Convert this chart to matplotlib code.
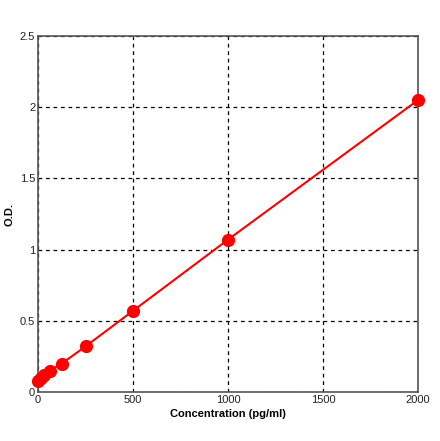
import matplotlib
matplotlib.use("Agg")
import matplotlib.pyplot as plt

# standard curve
conc = [0, 15.6, 31.25, 62.5, 125, 250, 500, 1000, 2000]
od = [0.08, 0.10, 0.12, 0.15, 0.20, 0.32, 0.57, 1.07, 2.05]

x_ticks = [0, 500, 1000, 1500, 2000]
x_labels = ["0", "500", "1000", "1500", "2000"]
y_ticks = [0, 0.5, 1, 1.5, 2, 2.5]
y_labels = ["0", "0.5", "1", "1.5", "2", "2.5"]

plt.rcParams["font.family"] = ["Liberation Sans", "DejaVu Sans"]

fig = plt.figure(figsize=(4.4, 4.41), dpi=100)
ax = fig.add_axes([38 / 440, 1 - 392 / 441, 380 / 440, 356 / 441])

ax.plot(conc, od, color="#ff0000", linewidth=1.5, marker="o",
        markersize=8.5, markeredgecolor="#ff0000", zorder=3, clip_on=False)

ax.set_xlim(0, 2000)
ax.set_ylim(0, 2.5)
ax.set_xticks(x_ticks)
ax.set_xticklabels(x_labels)
ax.set_yticks(y_ticks)
ax.set_yticklabels(y_labels)
ax.tick_params(length=0, labelsize=8, colors="#222222", pad=2)
ax.grid(True, color="black", linestyle=(0, (3, 3)), linewidth=0.9)

for s in ax.spines.values():
    s.set_color("#555555")
    s.set_linewidth(1.2)

ax.set_xlabel("Concentration (pg/ml)", fontsize=8, fontweight="bold", labelpad=3)
ax.set_ylabel("O.D.", fontsize=8, fontweight="bold", labelpad=4)

fig.savefig("out.png", dpi=100)
